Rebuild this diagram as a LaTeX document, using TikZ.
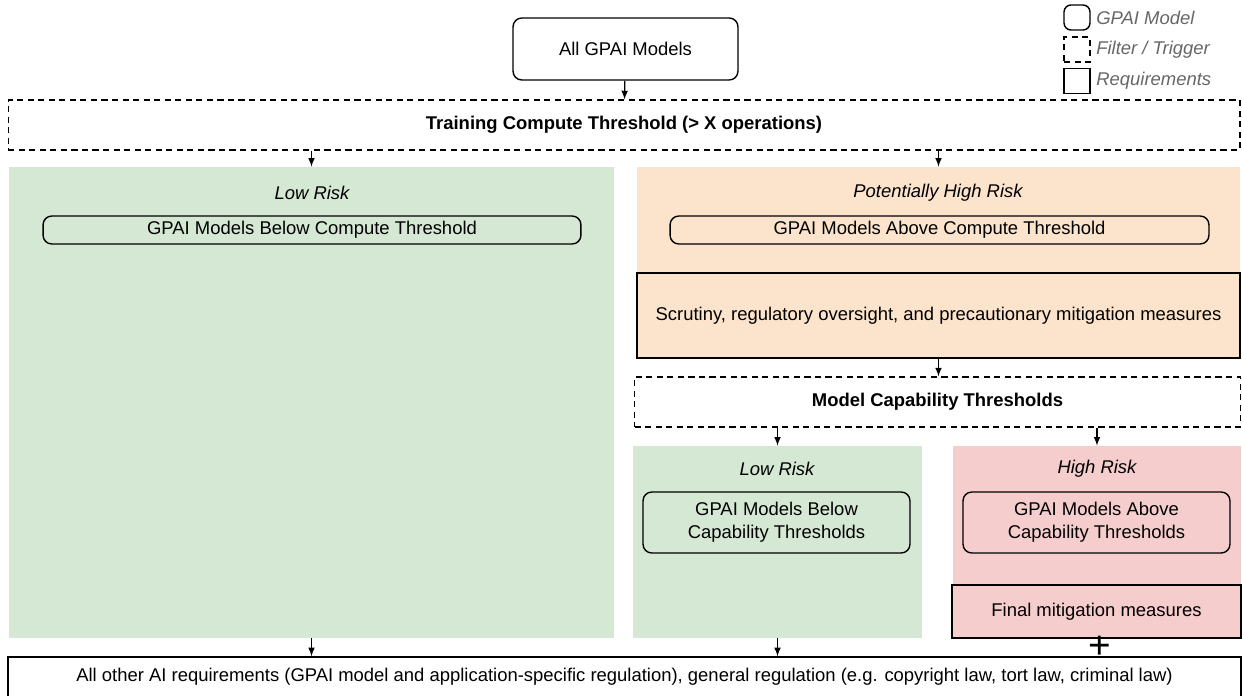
\documentclass[tikz,border=0pt]{standalone}
\usepackage{fontspec}
\setmainfont{Liberation Sans}
\usetikzlibrary{arrows}
\definecolor{lowgreen}{HTML}{D5E8D4}
\definecolor{midorange}{HTML}{FCE4CC}
\definecolor{highred}{HTML}{F6CDCD}
\definecolor{legendgray}{HTML}{666666}
\tikzstyle{model} = [rectangle, rounded corners=5pt, draw=black, line width=0.8pt, align=center, font=\fontsize{10.5}{13}\selectfont]
\tikzstyle{filter} = [rectangle, draw=black, line width=0.7pt, dash pattern=on 3.5pt off 2.5pt, fill=white, align=center, font=\fontsize{10.5}{13}\selectfont\bfseries]
\tikzstyle{reqbox} = [rectangle, draw=black, line width=0.8pt, align=center, font=\fontsize{10.5}{13}\selectfont]
\tikzstyle{region} = [rectangle, draw=none, inner sep=0pt]
\tikzstyle{risk} = [font=\fontsize{10.5}{13}\selectfont\itshape]
\tikzstyle{legend} = [anchor=west, text=legendgray, font=\fontsize{10.5}{13}\selectfont\itshape, inner sep=0pt]
\tikzstyle{arrow} = [line width=0.7pt,->,>= latex]

\begin{document}
\begin{tikzpicture}[x=0.02cm, y=-0.02cm]
\useasboundingbox (0,0) rectangle (1242,696);
% legend
\node (lgm) [model, minimum width=0.52cm, minimum height=0.5cm, rounded corners=4pt] at (1077,17.5) {};
\node (lgf) [filter, minimum width=0.52cm, minimum height=0.5cm] at (1077,49.5) {};
\node (lgr) [reqbox, minimum width=0.52cm, minimum height=0.5cm] at (1077,81) {};
\node [legend] at (1096,18) {GPAI Model};
\node [legend] at (1096,49.5) {Filter / Trigger};
\node [legend] at (1096,81) {Requirements};

% top
\node (all) [model, fill=white, minimum width=4.5cm, minimum height=1.24cm] at (625.5,49) {All GPAI Models};
\node (tct) [filter, minimum width=24.64cm, minimum height=1cm] at (624,125) {Training Compute Threshold (> X operations)};

% compute threshold branches
\node (lowc) [region, fill=lowgreen, minimum width=12.1cm, minimum height=9.42cm] at (311.5,402.5) {};
\node [risk] at (312,193) {Low Risk};
\node (belowc) [model, minimum width=10.76cm, minimum height=0.56cm, inner sep=1pt] at (312,230) {GPAI Models Below Compute Threshold};

\node (highc) [region, fill=midorange, minimum width=12.06cm, minimum height=3.82cm] at (938.5,262.5) {};
\node [risk] at (938,193) {Potentially High Risk};
\node (abovec) [model, minimum width=10.78cm, minimum height=0.56cm, inner sep=1pt] at (939.5,230) {GPAI Models Above Compute Threshold};
\node (scr) [reqbox, fill=midorange, minimum width=12.06cm, minimum height=1.7cm] at (938.5,315.5) {Scrutiny, regulatory oversight, and precautionary mitigation measures};

\node (mct) [filter, minimum width=12.12cm, minimum height=1cm] at (937.5,402) {Model Capability Thresholds};

% capability threshold branches
\node (lowcap) [region, fill=lowgreen, minimum width=5.78cm, minimum height=3.84cm] at (777.5,542) {};
\node [risk] at (777,469) {Low Risk};
\node (belowcap) [model, minimum width=5.34cm, minimum height=1.22cm] at (776.5,522.5) {GPAI Models Below\\Capability Thresholds};

\node (highcap) [region, fill=highred, minimum width=5.76cm, minimum height=3.84cm] at (1097,542) {};
\node [risk] at (1097,469) {High Risk};
\node (abovecap) [model, minimum width=5.34cm, minimum height=1.22cm] at (1096.5,522.5) {GPAI Models Above\\Capability Thresholds};
\node (final) [reqbox, fill=highred, minimum width=5.78cm, minimum height=1.06cm] at (1096.5,611.5) {Final mitigation measures};

% bottom
\node (req) [reqbox, minimum width=24.66cm, minimum height=0.9cm] at (624.5,679.5) {};
\node [font=\fontsize{10.5}{13}\selectfont] at (624.5,677) {All other AI requirements (GPAI model and application-specific regulation), general regulation (e.g. copyright law, tort law, criminal law)};
\node (plus) [font=\fontsize{22}{22}\selectfont, inner sep=0pt] at (1100,647) {+};

\draw [arrow](all) -- (tct);
\draw [arrow](tct.south -| lowc.north) -- (lowc.north);
\draw [arrow](tct.south -| highc.north) -- (highc.north);
\draw [arrow](scr) -- (scr.south |- mct.north);
\draw [arrow](mct.south -| lowcap.north) -- (lowcap.north);
\draw [arrow](mct.south -| highcap.north) -- (highcap.north);
\draw [arrow](lowc) -- (lowc.south |- req.north);
\draw [arrow](lowcap) -- (lowcap.south |- req.north);
\end{tikzpicture}
\end{document}
